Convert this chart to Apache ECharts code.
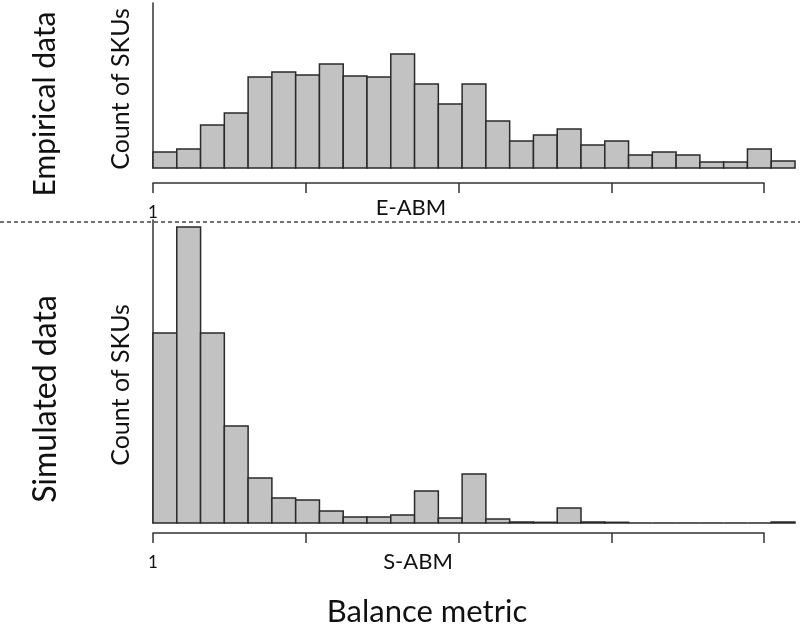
<!DOCTYPE html>
<html>
<head>
<meta charset="utf-8">
<script src="https://cdn.jsdelivr.net/npm/echarts@6/dist/echarts.min.js"></script>
<style>
  html, body { margin: 0; padding: 0; background: #fff; }
  #chart { width: 800px; height: 630px; }
</style>
</head>
<body>
<div id="chart"></div>
<script>
// histogram bin counts (27 equal bins each)
var empiricalCounts = [16, 19, 43, 55, 91, 96, 93, 104, 92, 91, 114, 84, 64, 84, 47, 27, 33, 39, 23, 27, 13, 16, 13, 6, 6, 19, 7];
var simulatedCounts = [190, 296, 190, 97, 45, 25, 23, 12, 6, 6, 8, 32, 5, 49, 4, 1, 0.7, 15, 1, 0.7, 0, 0, 0, 0, 0, 0, 1];
var tickLabels = ["1", "", "", "", ""];
var empiricalMax = 165;
var simulatedMax = 303;

var chartDom = document.getElementById("chart");
var myChart = echarts.init(chartDom);

var textFont = "Lato";
var ink = "#111";
var edge = "#2a2a2a";

function toBins(arr) {
  return arr.map(function (v, i) { return [i, v]; });
}

// one rect per bin, from bin start to bin end
function histItem(params, api) {
  var i = api.value(0);
  var v = api.value(1);
  var p0 = api.coord([i, 0]);
  var p1 = api.coord([i + 1, v]);
  return {
    type: "rect",
    shape: { x: p0[0], y: p1[1], width: p1[0] - p0[0], height: p0[1] - p1[1] },
    style: { fill: "#c2c2c2", stroke: edge, lineWidth: 1.5 }
  };
}

function tickAxis(gridIndex) {
  return {
    gridIndex: gridIndex,
    type: "category",
    data: tickLabels,
    boundaryGap: false,
    axisLine: { show: true, lineStyle: { color: "#333", width: 1.5 } },
    axisTick: { show: true, length: 10, lineStyle: { color: "#333", width: 1.5 } },
    axisLabel: { show: true, margin: 21, fontSize: 17, color: ink, fontFamily: textFont },
    splitLine: { show: false }
  };
}

function countAxis(gridIndex, max) {
  return {
    gridIndex: gridIndex,
    type: "value",
    min: 0,
    max: max,
    axisLine: { show: true, lineStyle: { color: "#333", width: 1.5 } },
    axisTick: { show: false },
    axisLabel: { show: false },
    splitLine: { show: false }
  };
}

function vText(txt, x, y, size) {
  return {
    type: "text",
    x: x, y: y,
    rotation: Math.PI / 2,
    style: {
      text: txt, x: 0, y: 0,
      align: "center", verticalAlign: "middle",
      textAlign: "center", textVerticalAlign: "middle",
      fontSize: size, fontFamily: textFont, fill: ink
    }
  };
}

function hText(txt, x, y, size) {
  return {
    type: "text",
    x: x, y: y,
    style: {
      text: txt, x: 0, y: 0,
      align: "center", verticalAlign: "middle",
      textAlign: "center", textVerticalAlign: "middle",
      fontSize: size, fontFamily: textFont, fill: ink
    }
  };
}

var option = {
  backgroundColor: "#fff",
  animation: false,
  grid: [
    { left: 153, top: 3, width: 642, height: 165 },
    { left: 153, top: 173, width: 611, height: 10 },
    { left: 153, top: 220, width: 642, height: 303 },
    { left: 153, top: 523, width: 611, height: 10 }
  ],
  xAxis: [
    { gridIndex: 0, type: "value", min: 0, max: empiricalCounts.length, show: false },
    tickAxis(1),
    { gridIndex: 2, type: "value", min: 0, max: simulatedCounts.length, show: false },
    tickAxis(3)
  ],
  yAxis: [
    countAxis(0, empiricalMax),
    { gridIndex: 1, type: "value", show: false },
    countAxis(2, simulatedMax),
    { gridIndex: 3, type: "value", show: false }
  ],
  series: [
    {
      type: "custom",
      xAxisIndex: 0, yAxisIndex: 0,
      clip: false,
      renderItem: histItem,
      data: toBins(empiricalCounts)
    },
    {
      type: "custom",
      xAxisIndex: 2, yAxisIndex: 2,
      clip: false,
      renderItem: histItem,
      data: toBins(simulatedCounts)
    }
  ],
  graphic: [
    {
      type: "line",
      shape: { x1: 0, y1: 222, x2: 800, y2: 222 },
      style: { stroke: "#444", lineWidth: 1.3, lineDash: [4, 3] }
    },
    vText("Empirical data", 45, 104, 30),
    vText("Simulated data", 46, 399, 32),
    vText("Count of SKUs", 121, 89, 25),
    vText("Count of SKUs", 121, 385, 25),
    hText("E-ABM", 411, 208, 22),
    hText("S-ABM", 418, 562, 22),
    hText("Balance metric", 427, 612, 31)
  ]
};

myChart.setOption(option);
window.addEventListener("resize", function () {
  myChart.resize();
});
</script>
</body>
</html>
